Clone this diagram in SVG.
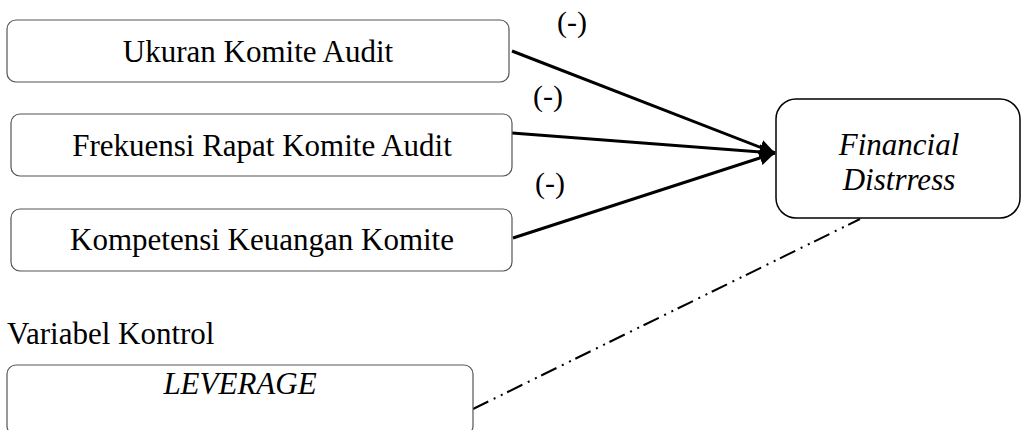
<svg xmlns="http://www.w3.org/2000/svg" width="1022" height="430" viewBox="0 0 1022 430">
  <style>
    .box { fill: #ffffff; stroke: #555555; stroke-width: 1.2; }
    .dv { fill: #ffffff; stroke: #000000; stroke-width: 1.5; }
    text { fill: #000000; }
    .lbl { font-size: 31px; text-anchor: middle; }
    .it { font-style: italic; }
    .sign { font-size: 30px; text-anchor: middle; }
    .edge { stroke: #000000; stroke-width: 3; fill: none; marker-end: url(#head); }
    .ctrl { stroke: #000000; stroke-width: 2; fill: none; stroke-dasharray: 17 6 2 6 2 5; }
  </style>
  <defs>
    <marker id="head" markerWidth="6" markerHeight="6" refX="5.2" refY="2.5" orient="auto" markerUnits="strokeWidth">
      <path d="M0,0 L5.2,2.5 L0,5 Z" fill="#000000"/>
    </marker>
  </defs>

  <rect width="1022" height="430" fill="#ffffff"/>

  <g font-family="Liberation Serif, Times New Roman, DejaVu Serif, serif">
    <!-- connectors -->
    <g id="connectors">
      <line class="edge" x1="512" y1="51" x2="775" y2="153"/>
      <line class="edge" x1="512" y1="133" x2="775" y2="153"/>
      <line class="edge" x1="513" y1="238" x2="775" y2="153"/>
      <line class="ctrl" x1="473" y1="409" x2="860" y2="219"/>
      <text class="sign" x="572" y="32">(-)</text>
      <text class="sign" x="548" y="106">(-)</text>
      <text class="sign" x="550" y="193">(-)</text>
    </g>

    <g id="ukuran-komite-audit">
      <rect class="box" x="7" y="20" width="502" height="62" rx="9"/>
      <text class="lbl" x="258" y="62">Ukuran Komite Audit</text>
    </g>

    <g id="frekuensi-rapat">
      <rect class="box" x="11" y="114" width="501" height="62" rx="9"/>
      <text class="lbl" x="262" y="156">Frekuensi Rapat Komite Audit</text>
    </g>

    <g id="kompetensi-keuangan">
      <rect class="box" x="11" y="209" width="501" height="62" rx="9"/>
      <text class="lbl" x="262" y="250">Kompetensi Keuangan Komite</text>
    </g>

    <g id="variabel-kontrol-label">
      <text x="7" y="344" font-size="31">Variabel Kontrol</text>
    </g>

    <g id="leverage">
      <rect class="box" x="7" y="365" width="466" height="70" rx="9"/>
      <text class="lbl it" x="240" y="394">LEVERAGE</text>
    </g>

    <g id="financial-distress">
      <rect class="dv" x="776" y="99" width="244" height="119" rx="20"/>
      <text class="lbl it" x="899" y="155">Financial</text>
      <text class="lbl it" x="899" y="190">Distrress</text>
    </g>
  </g>
</svg>
